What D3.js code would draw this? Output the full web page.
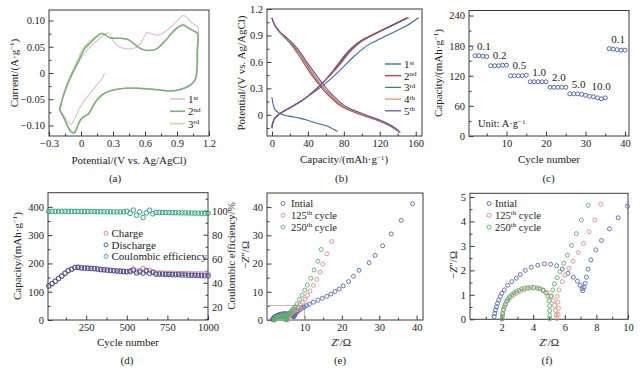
<!DOCTYPE html>
<html>
<head>
<meta charset="utf-8">
<script src="https://cdn.jsdelivr.net/npm/d3@7/dist/d3.min.js"></script>
<style>
body { margin: 0; background: #fff; }
svg text { font-family: "Liberation Serif", "Times New Roman", serif; font-size: 10.5px; fill: #222; }
</style>
</head>
<body>
<svg id="fig" width="640" height="369"></svg>
<script>
// ---- (a) cyclic voltammetry ----
var cv1V = [0.22, 0.20, 0.15, 0.10, 0.05, 0.00, -0.04, -0.07, -0.09, -0.11, -0.14, -0.17, -0.20, -0.16, -0.12, -0.09, -0.05, 0.00, 0.05, 0.10, 0.15, 0.20, 0.24, 0.27, 0.30, 0.35, 0.40, 0.46, 0.51, 0.55, 0.59, 0.62, 0.66, 0.71, 0.76, 0.81, 0.86, 0.91, 0.95, 0.98, 1.02, 1.06, 1.095, 1.095, 1.09, 1.07, 1.03, 0.95, 0.85, 0.75, 0.60, 0.45, 0.35, 0.27, 0.20, 0.15, 0.11, 0.08, 0.05];
var cv1I = [0.000, -0.010, -0.022, -0.035, -0.048, -0.062, -0.078, -0.092, -0.098, -0.096, -0.088, -0.078, -0.070, -0.041, -0.019, -0.006, 0.010, 0.028, 0.042, 0.052, 0.062, 0.070, 0.076, 0.074, 0.062, 0.051, 0.047, 0.046, 0.048, 0.054, 0.068, 0.077, 0.075, 0.072, 0.075, 0.082, 0.091, 0.101, 0.109, 0.108, 0.100, 0.092, 0.088, 0.050, 0.005, -0.012, -0.022, -0.030, -0.034, -0.032, -0.030, -0.029, -0.031, -0.034, -0.041, -0.050, -0.064, -0.075, -0.080];
var cv2V = [-0.20, -0.16, -0.12, -0.09, -0.05, -0.02, 0.03, 0.08, 0.13, 0.18, 0.20, 0.23, 0.27, 0.32, 0.38, 0.44, 0.49, 0.54, 0.59, 0.64, 0.70, 0.75, 0.80, 0.85, 0.90, 0.94, 0.97, 1.00, 1.04, 1.08, 1.095, 1.09, 1.085, 1.07, 1.03, 0.98, 0.90, 0.82, 0.72, 0.62, 0.52, 0.42, 0.34, 0.27, 0.21, 0.17, 0.13, 0.10, 0.07, 0.04, 0.01, -0.02, -0.04, -0.065, -0.09, -0.12, -0.15, -0.18, -0.20];
var cv2I = [-0.070, -0.040, -0.018, -0.004, 0.012, 0.024, 0.045, 0.056, 0.066, 0.074, 0.075, 0.072, 0.067, 0.066, 0.066, 0.064, 0.057, 0.049, 0.044, 0.043, 0.045, 0.053, 0.064, 0.076, 0.086, 0.091, 0.091, 0.087, 0.082, 0.078, 0.075, 0.040, 0.000, -0.013, -0.022, -0.028, -0.033, -0.034, -0.032, -0.030, -0.029, -0.029, -0.031, -0.034, -0.040, -0.047, -0.057, -0.068, -0.078, -0.082, -0.086, -0.095, -0.106, -0.114, -0.113, -0.104, -0.090, -0.078, -0.070];
var cv3V = [-0.20, -0.16, -0.12, -0.09, -0.05, -0.02, 0.03, 0.08, 0.13, 0.18, 0.20, 0.23, 0.27, 0.32, 0.38, 0.44, 0.49, 0.54, 0.59, 0.64, 0.70, 0.75, 0.80, 0.85, 0.90, 0.94, 0.97, 1.00, 1.04, 1.08, 1.095, 1.09, 1.085, 1.07, 1.03, 0.98, 0.90, 0.82, 0.72, 0.62, 0.52, 0.42, 0.34, 0.27, 0.21, 0.17, 0.13, 0.10, 0.07, 0.04, 0.01, -0.02, -0.04, -0.065, -0.09, -0.12, -0.15, -0.18, -0.20];
var cv3I = [-0.070, -0.038, -0.015, -0.001, 0.016, 0.030, 0.050, 0.060, 0.068, 0.075, 0.076, 0.073, 0.067, 0.066, 0.066, 0.064, 0.057, 0.049, 0.044, 0.043, 0.045, 0.052, 0.063, 0.075, 0.085, 0.090, 0.090, 0.086, 0.081, 0.077, 0.074, 0.040, 0.000, -0.013, -0.022, -0.028, -0.033, -0.034, -0.032, -0.030, -0.029, -0.029, -0.031, -0.034, -0.040, -0.047, -0.057, -0.067, -0.077, -0.081, -0.085, -0.094, -0.104, -0.112, -0.111, -0.102, -0.089, -0.077, -0.070];
var cvNames = ['1', '2', '3'];
var cvSups = ['st', 'nd', 'rd'];

// ---- (b) charge / discharge profiles ----
var chCap = [
  [0, 1, 3, 6, 10, 20, 30, 40, 50, 60, 70, 80, 90, 100, 110, 120, 130, 140, 150, 163],
  [0, 1, 3, 6, 10, 20, 30, 40, 50, 60, 68, 76, 84, 92, 100, 110, 120, 130, 140, 150],
  [0, 1, 3, 6, 10, 20, 30, 40, 50, 60, 69, 77, 85, 93, 101, 111, 121, 131, 141, 152],
  [0, 1, 3, 6, 10, 20, 30, 40, 50, 60, 70, 79, 87, 95, 103, 112, 122, 132, 142, 153],
  [0, 1, 3, 6, 10, 20, 30, 40, 50, 60, 69, 78, 86, 94, 102, 111, 121, 131, 141, 151]
];
var chV = [
  [-0.15, -0.09, -0.04, -0.01, 0.02, 0.08, 0.14, 0.21, 0.28, 0.36, 0.45, 0.55, 0.65, 0.74, 0.81, 0.86, 0.91, 0.96, 1.01, 1.10],
  [-0.15, -0.09, -0.04, -0.01, 0.02, 0.08, 0.14, 0.21, 0.30, 0.40, 0.50, 0.61, 0.71, 0.79, 0.85, 0.90, 0.95, 1.00, 1.05, 1.10],
  [-0.15, -0.09, -0.04, -0.01, 0.02, 0.08, 0.14, 0.21, 0.30, 0.40, 0.50, 0.61, 0.71, 0.79, 0.85, 0.90, 0.95, 1.00, 1.05, 1.10],
  [-0.15, -0.09, -0.04, -0.01, 0.02, 0.08, 0.14, 0.21, 0.30, 0.40, 0.50, 0.61, 0.71, 0.79, 0.85, 0.90, 0.95, 1.00, 1.05, 1.10],
  [-0.15, -0.09, -0.04, -0.01, 0.02, 0.08, 0.14, 0.21, 0.30, 0.40, 0.50, 0.61, 0.71, 0.79, 0.85, 0.90, 0.95, 1.00, 1.05, 1.10]
];
var dcCap = [
  [0, 1.5, 4, 8, 14, 22, 32, 42, 52, 62, 68, 73],
  [0, 3, 8, 15, 22, 29, 36, 43, 51, 59, 67, 75, 84, 94, 104, 114, 124, 132, 138, 142],
  [0, 3, 8, 15, 23, 31, 38, 45, 53, 61, 69, 77, 86, 96, 106, 116, 125, 133, 139, 142],
  [0, 3, 8, 16, 24, 32, 39, 46, 54, 62, 70, 78, 87, 97, 107, 117, 126, 134, 139, 142],
  [0, 3, 9, 17, 25, 33, 40, 48, 56, 64, 72, 80, 89, 99, 108, 118, 127, 134, 140, 143]
];
var dcV = [
  [0.20, 0.11, 0.05, 0.02, -0.005, -0.02, -0.04, -0.07, -0.10, -0.13, -0.16, -0.19],
  [1.10, 1.02, 0.94, 0.87, 0.79, 0.69, 0.58, 0.47, 0.36, 0.26, 0.18, 0.11, 0.06, 0.02, -0.015, -0.05, -0.09, -0.13, -0.17, -0.20],
  [1.10, 1.02, 0.94, 0.87, 0.79, 0.69, 0.58, 0.47, 0.36, 0.26, 0.18, 0.11, 0.06, 0.02, -0.015, -0.05, -0.09, -0.13, -0.17, -0.20],
  [1.10, 1.02, 0.94, 0.87, 0.79, 0.69, 0.58, 0.47, 0.36, 0.26, 0.18, 0.11, 0.06, 0.02, -0.015, -0.05, -0.09, -0.13, -0.17, -0.20],
  [1.10, 1.02, 0.94, 0.87, 0.79, 0.69, 0.58, 0.47, 0.36, 0.26, 0.18, 0.11, 0.06, 0.02, -0.015, -0.05, -0.09, -0.13, -0.17, -0.20]
];
var gcdNames = ['1', '2', '3', '4', '5'];
var gcdSups = ['st', 'nd', 'rd', 'th', 'th'];
var gcdColors = ['#3d63a6', '#c8363d', '#2f8a66', '#f2926c', '#6a4e9e'];

// ---- (c) rate capability ----
var rateCycle = d3.range(1, 41);
var rateCap = [175, 160, 160, 159, 158, 140, 140, 140, 141, 141, 120, 120, 120, 120, 121, 108, 108, 108, 108, 108,
  97, 97, 97, 97, 97, 84, 84, 84, 83, 81, 79, 78, 76, 74, 76, 174, 173, 172, 171, 171];
var rateLabels = ['0.1', '0.2', '0.5', '1.0', '2.0', '5.0', '10.0', '0.1'];
var rateStart = [2, 6, 11, 16, 21, 26, 31, 36];

// ---- (d) long cycling, every 20th cycle ----
var lifeCycle = d3.range(20, 1001, 20);
var lifeCharge = [121, 129, 138, 147, 156, 166, 175, 180, 186, 187, 185, 184, 184, 183, 182, 181, 179, 178, 177, 176,
  175, 174, 174, 173, 172, 174, 180, 172, 169, 182, 170, 176, 170, 166, 166, 166, 165, 165, 165, 165,
  164, 164, 164, 164, 163, 163, 163, 163, 163, 163];
var lifeDischarge = [120, 128, 137, 146, 155, 165, 174, 179, 185, 186, 184, 183, 183, 182, 181, 180, 178, 177, 176, 175,
  174, 173, 172, 171, 170, 171, 176, 166, 173, 166, 175, 165, 168, 162, 162, 162, 161, 161, 160, 160,
  160, 159, 159, 158, 158, 158, 157, 157, 156, 156];
var lifeCE = [99.4, 99.5, 99.5, 99.6, 99.5, 99.5, 99.4, 99.5, 99.4, 99.4, 99.3, 99.4, 99.3, 99.3, 99.2, 99.2, 99.2, 99.1, 99.1, 99.1,
  99.0, 99.0, 99.0, 99.0, 99.5, 97.8, 100.5, 96.2, 99.0, 94.3, 98.2, 100.4, 97.4, 98.6, 98.6, 98.5, 98.5, 98.4, 98.4, 98.3,
  98.3, 98.2, 98.2, 98.1, 98.1, 98.0, 98.0, 97.9, 97.9, 97.8];
var lifeNames = ['Charge', 'Discharge', 'Coulombic efficiency'];

// ---- (e)/(f) impedance ----
var eisRe0 = [1.53, 1.57, 1.61, 1.68, 1.74, 1.82, 1.91, 2.02, 2.17, 2.38, 2.65, 2.93, 3.18, 3.50, 3.88, 4.29, 4.71, 5.10, 5.48, 5.84,
  6.20, 6.54, 6.80, 6.97, 7.10, 7.14, 7.22, 7.29, 7.37, 7.48, 7.65, 7.96, 8.32, 8.83, 9.38, 9.97,
  10.6, 11.3, 12.4, 13.6, 14.8, 16.0, 17.1, 18.2, 19.3, 20.4, 21.8, 23.1, 24.6, 27.3, 28.9, 30.9, 33.2, 35.9, 38.9];
var eisIm0 = [0.11, 0.24, 0.38, 0.51, 0.65, 0.79, 0.93, 1.06, 1.20, 1.39, 1.54, 1.68, 1.83, 2.00, 2.13, 2.21, 2.27, 2.25, 2.19, 2.05,
  1.88, 1.72, 1.56, 1.39, 1.26, 1.17, 1.31, 1.47, 1.72, 2.05, 2.43, 2.84, 3.22, 3.70, 4.15, 4.62,
  5.1, 5.6, 6.3, 7.0, 7.7, 8.4, 9.2, 10.1, 11.0, 12.1, 13.6, 15.5, 17.6, 20.3, 22.9, 26.3, 30.5, 35.3, 41.2];
var eisRe125 = [2.02, 2.06, 2.12, 2.23, 2.38, 2.55, 2.76, 2.97, 3.18, 3.44, 3.72, 4.03, 4.35, 4.63, 4.88, 5.10, 5.27, 5.35, 5.41, 5.46,
  5.50, 5.58, 5.60, 5.57, 5.52, 5.63, 5.84, 5.99, 6.26, 6.52, 6.86, 7.18, 7.54, 7.90, 8.28,
  8.9, 9.5, 10.2, 10.8, 11.5, 12.4, 13.3, 14.2, 14.9, 16.0, 17.3];
var eisIm125 = [0.00, 0.20, 0.40, 0.58, 0.75, 0.88, 0.99, 1.07, 1.15, 1.20, 1.26, 1.29, 1.26, 1.20, 1.09, 0.94, 0.76, 0.57, 0.36, 0.17,
  0.03, 0.20, 0.45, 0.70, 0.93, 1.20, 1.54, 1.81, 2.09, 2.37, 2.73, 3.10, 3.58, 4.06, 4.70,
  5.5, 6.2, 7.3, 8.8, 10.3, 12.3, 14.4, 17.0, 19.8, 23.5, 27.8];
var eisRe250 = [2.03, 2.05, 2.08, 2.12, 2.17, 2.24, 2.32, 2.41, 2.52, 2.64, 2.78, 2.93, 3.09, 3.26, 3.45, 3.65, 3.85, 4.05, 4.25, 4.45,
  4.63, 4.79, 4.92, 5.00, 5.04, 5.05, 5.05, 5.04, 5.15, 5.24, 5.35, 5.52, 5.69, 5.94, 6.16, 6.43, 6.73, 7.05, 7.49,
  8.0, 8.7, 9.4, 10.1, 10.8, 11.7, 12.6, 13.6, 14.5];
var eisIm250 = [0.02, 0.12, 0.25, 0.38, 0.51, 0.63, 0.74, 0.84, 0.93, 1.01, 1.08, 1.14, 1.19, 1.24, 1.27, 1.29, 1.30, 1.30, 1.28, 1.24,
  1.18, 1.08, 0.95, 0.75, 0.55, 0.35, 0.15, 0.02, 0.95, 1.20, 1.45, 1.70, 1.95, 2.29, 2.62, 3.02, 3.50, 4.06, 4.66,
  5.7, 7.3, 8.8, 10.6, 12.4, 14.8, 17.7, 20.8, 25.0];
var eisNames = ['Intial', '125', '250'];
var eisSups = ['', 'th', 'th'];
var eisColors = ['#5566b0', '#e08c8c', '#5cae6e'];

var ink = '#3a3a3a';
var titleSize = '11px';
var svg = d3.select('#fig');

function frame(x, y, o) {
  var g = svg.append('g');
  var left = x.range()[0], right = x.range()[1];
  var bottom = y.range()[0], top = y.range()[1];
  g.append('g').attr('transform', 'translate(0,' + bottom + ')')
    .call(d3.axisBottom(x).tickValues(o.xMinor || []).tickSize(-2.5).tickFormat(''));
  g.append('g').attr('transform', 'translate(0,' + bottom + ')')
    .call(d3.axisBottom(x).tickValues(o.xTicks).tickSize(-4.5).tickPadding(4).tickFormat(o.xFormat || String));
  g.append('g').attr('transform', 'translate(' + left + ',0)')
    .call(d3.axisLeft(y).tickValues(o.yMinor || []).tickSize(-2.5).tickFormat(''));
  g.append('g').attr('transform', 'translate(' + left + ',0)')
    .call(d3.axisLeft(y).tickValues(o.yTicks).tickSize(-4.5).tickPadding(4).tickFormat(o.yFormat || String));
  g.selectAll('.domain').remove();
  g.selectAll('.tick line').attr('stroke', ink);
  g.append('rect')
    .attr('x', left).attr('y', top)
    .attr('width', right - left).attr('height', bottom - top)
    .attr('fill', 'none').attr('stroke', ink).attr('stroke-width', 1);
  return g;
}

// text made of parts; a part given as [txt, 'sup'] is raised, [txt, 'it'] is italic
function rich(t, parts) {
  var up = false;
  parts.forEach(function(p) {
    var txt = typeof p === 'string' ? p : p[0];
    var kind = typeof p === 'string' ? '' : p[1];
    var s = t.append('tspan').text(txt);
    if (kind === 'sup') {
      s.attr('dy', -3.5).style('font-size', '7px');
      up = true;
    } else {
      if (up) s.attr('dy', 3.5);
      up = false;
      if (kind === 'it') s.style('font-style', 'italic');
    }
  });
  return t;
}

function title(x, y, parts, rotate) {
  var t = svg.append('text')
    .attr('text-anchor', 'middle')
    .style('font-size', titleSize)
    .attr('transform', 'translate(' + x + ',' + y + ')' + (rotate ? ' rotate(' + rotate + ')' : ''));
  return rich(t, parts);
}

function minus(f) {
  return function(d) { return f(d).replace('-', '\u2212'); };
}

var capParts = ['Capacity/(mAh\u00b7g', ['\u22121', 'sup'], ')'];

// ================= (a) =================
var xa = d3.scaleLinear().domain([-0.3, 1.2]).range([49, 209]);
var ya = d3.scaleLinear().domain([-0.12, 0.12]).range([136, 10]);
frame(xa, ya, {
  xTicks: [-0.3, 0, 0.3, 0.6, 0.9, 1.2], xMinor: d3.range(-0.15, 1.2, 0.3),
  yTicks: [-0.1, -0.05, 0, 0.05, 0.1], yMinor: [-0.075, -0.025, 0.025, 0.075],
  xFormat: minus(function(d) { return d === 0 ? '0' : d3.format('.1f')(d); }),
  yFormat: minus(function(d) { return d === 0 ? '0' : d3.format('.2f')(d); })
});
var cvLine = d3.line().x(function(d) { return xa(d[0]); }).y(function(d) { return ya(d[1]); })
  .curve(d3.curveCatmullRom);
var cvData = [d3.zip(cv1V, cv1I), d3.zip(cv2V, cv2I), d3.zip(cv3V, cv3I)];
var cvColors = ['#dcc3d9', '#7aae7a', '#c6d8a6'];
var cvWidths = [1.2, 1.5, 1.3];
[0, 2, 1].forEach(function(i) {
  svg.append('path').attr('d', cvLine(cvData[i])).attr('fill', 'none')
    .attr('stroke', cvColors[i]).attr('stroke-width', cvWidths[i]);
});
cvNames.forEach(function(n, i) {
  var yy = 99 + i * 12.3;
  svg.append('line').attr('x1', 170).attr('x2', 185).attr('y1', yy).attr('y2', yy)
    .attr('stroke', cvColors[i]).attr('stroke-width', 1.6);
  rich(svg.append('text').attr('x', 188).attr('y', yy + 4).style('font-size', titleSize), [n, [cvSups[i], 'sup']]);
});
title(14, 73, ['Current/(A\u00b7g', ['\u22121', 'sup'], ')'], -90).attr('dy', '0.35em');
title(129, 164, ['Potential/(V vs. Ag/AgCl)']);
title(115, 182, ['(a)']);

// ================= (b) =================
var xb = d3.scaleLinear().domain([-5.5, 167]).range([267, 422]);
var yb = d3.scaleLinear().domain([-0.24, 1.2]).range([136, 9]);
frame(xb, yb, {
  xTicks: [0, 40, 80, 120, 160], xMinor: [20, 60, 100, 140],
  yTicks: [0, 0.3, 0.6, 0.9, 1.2], yMinor: [-0.15, 0.15, 0.45, 0.75, 1.05],
  yFormat: function(d) { return d === 0 ? '0' : d3.format('.1f')(d); }
});
var gcdLine = d3.line().x(function(d) { return xb(d[0]); }).y(function(d) { return yb(d[1]); })
  .curve(d3.curveCatmullRom);
gcdNames.forEach(function(n, i) {
  svg.append('path').attr('d', gcdLine(d3.zip(chCap[i], chV[i]))).attr('fill', 'none')
    .attr('stroke', gcdColors[i]).attr('stroke-width', 1.1);
  svg.append('path').attr('d', gcdLine(d3.zip(dcCap[i], dcV[i]))).attr('fill', 'none')
    .attr('stroke', gcdColors[i]).attr('stroke-width', 1.1);
});
gcdNames.forEach(function(n, i) {
  var yy = 64 + i * 11.7;
  svg.append('line').attr('x1', 385).attr('x2', 401).attr('y1', yy).attr('y2', yy)
    .attr('stroke', gcdColors[i]).attr('stroke-width', 1.3);
  rich(svg.append('text').attr('x', 404).attr('y', yy + 4).style('font-size', titleSize), [n, [gcdSups[i], 'sup']]);
});
title(241.5, 73, ['Potential/(V vs. Ag/AgCl)'], -90).attr('dy', '0.35em');
title(344, 163, capParts);
title(341.5, 182, ['(b)']);

// ================= (c) =================
var xc = d3.scaleLinear().domain([0.5, 41]).range([469, 629]);
var yc = d3.scaleLinear().domain([0, 250]).range([136, 10.5]);
frame(xc, yc, {
  xTicks: [10, 20, 30, 40], xMinor: [5, 15, 25, 35],
  yTicks: [0, 60, 120, 180, 240], yMinor: [30, 90, 150, 210]
});
svg.append('g').selectAll('circle').data(d3.zip(rateCycle, rateCap)).enter().append('circle')
  .attr('cx', function(d) { return xc(d[0]); })
  .attr('cy', function(d) { return yc(d[1]); })
  .attr('r', 2).attr('fill', '#fff').attr('stroke', '#3f5ba8').attr('stroke-width', 0.9);
rateLabels.forEach(function(lab, i) {
  var s = rateStart[i];
  var top = d3.max(rateCap.slice(s - 1, s + 4));
  svg.append('text').attr('x', xc(s) + 2).attr('y', yc(top) - 6).style('font-size', titleSize).text(lab);
});
rich(svg.append('text').attr('x', 478).attr('y', 127).style('font-size', '10.5px'), ['Unit: A\u00b7g', ['\u22121', 'sup']]);
title(438, 73, capParts, -90).attr('dy', '0.35em');
title(549, 163, ['Cycle number']);
title(548.5, 182, ['(c)']);

// ================= (d) =================
var xd = d3.scaleLinear().domain([15, 1000]).range([48, 208]);
var yd = d3.scaleLinear().domain([0, 450]).range([320, 192.7]);
var yd2 = d3.scaleLinear().domain([9, 115]).range([320, 192.7]);
frame(xd, yd, {
  xTicks: [250, 500, 750, 1000], xMinor: [125, 375, 625, 875],
  yTicks: [0, 100, 200, 300, 400], yMinor: [50, 150, 250, 350]
});
var rAx = svg.append('g').attr('transform', 'translate(208,0)');
rAx.append('g').call(d3.axisRight(yd2).tickValues([10, 30, 50, 70, 90, 110]).tickSize(-2.5).tickFormat(''));
rAx.append('g').call(d3.axisRight(yd2).tickValues([20, 40, 60, 80, 100]).tickSize(-4.5).tickPadding(4));
rAx.selectAll('.domain').remove();
rAx.selectAll('.tick line').attr('stroke', ink);
var lifeColors = ['#e07f80', '#3d4fa0', '#2fa57e'];
var lifeSeries = [
  { vals: lifeCharge, y: yd }, { vals: lifeDischarge, y: yd }, { vals: lifeCE, y: yd2 }
];
lifeSeries.forEach(function(s, i) {
  svg.append('g').selectAll('circle').data(d3.zip(lifeCycle, s.vals)).enter().append('circle')
    .attr('cx', function(d) { return xd(d[0]); })
    .attr('cy', function(d) { return s.y(d[1]); })
    .attr('r', 2.3).attr('fill', 'none').attr('stroke', lifeColors[i]).attr('stroke-width', 1);
});
lifeNames.forEach(function(n, i) {
  var yy = 233.3 + i * 11.5;
  svg.append('circle').attr('cx', 106).attr('cy', yy).attr('r', 2).attr('fill', 'none')
    .attr('stroke', lifeColors[i]).attr('stroke-width', 0.9);
  svg.append('text').attr('x', 111.5).attr('y', yy + 3.8).style('font-size', titleSize).text(n);
});
title(17, 256, capParts, -90).attr('dy', '0.35em');
title(231, 256, ['Coulombic efficiency/%'], -90).attr('dy', '0.35em');
title(128, 346, ['Cycle number']);
title(127, 364, ['(d)']);

// ================= (e) =================
var xe = d3.scaleLinear().domain([0, 41.7]).range([267, 423]);
var ye = d3.scaleLinear().domain([0, 45]).range([320, 193]);
frame(xe, ye, {
  xTicks: [10, 20, 30, 40], xMinor: [5, 15, 25, 35],
  yTicks: [0, 10, 20, 30, 40], yMinor: [5, 15, 25, 35]
});
var xf = d3.scaleLinear().domain([0, 10]).range([470, 628]);
var yf = d3.scaleLinear().domain([0, 5.15]).range([319.3, 193.3]);
// zoomed window of panel (f)
svg.append('rect').attr('x', xe(0)).attr('y', ye(yf.domain()[1]))
  .attr('width', xe(xf.domain()[1]) - xe(0)).attr('height', ye(0) - ye(yf.domain()[1]))
  .attr('fill', 'none').attr('stroke', '#aaa').attr('stroke-width', 0.8);
var eisData = [d3.zip(eisRe0, eisIm0), d3.zip(eisRe125, eisIm125), d3.zip(eisRe250, eisIm250)];

function eisPanel(x, y) {
  var xMax = x.domain()[1], yMax = y.domain()[1];
  eisData.forEach(function(pts, i) {
    svg.append('g').selectAll('circle')
      .data(pts.filter(function(d) { return d[0] <= xMax + 0.05 && d[1] <= yMax; }))
      .enter().append('circle')
      .attr('cx', function(d) { return x(d[0]); })
      .attr('cy', function(d) { return y(d[1]); })
      .attr('r', 2).attr('fill', 'none').attr('stroke', eisColors[i]).attr('stroke-width', 0.9);
  });
}
function eisLegend(cx, tx) {
  eisNames.forEach(function(n, i) {
    var yy = 203.5 + i * 11.8;
    svg.append('circle').attr('cx', cx).attr('cy', yy).attr('r', 2).attr('fill', 'none')
      .attr('stroke', eisColors[i]).attr('stroke-width', 0.9);
    var parts = i === 0 ? [n] : [n, [eisSups[i], 'sup'], ' cycle'];
    rich(svg.append('text').attr('x', tx).attr('y', yy + 3.6).style('font-size', '10.5px'), parts);
  });
}
eisPanel(xe, ye);
eisLegend(283, 291);
title(245, 255, ['\u2212', ['Z', 'it'], '\u2033/\u03a9'], -90).attr('dy', '0.35em');
title(341, 346, [['Z', 'it'], '\u2032/\u03a9']);
title(340, 364, ['(e)']);

// ================= (f) =================
frame(xf, yf, {
  xTicks: [2, 4, 6, 8, 10], xMinor: [1, 3, 5, 7, 9],
  yTicks: [0, 1, 2, 3, 4, 5], yMinor: [0.5, 1.5, 2.5, 3.5, 4.5]
});
eisPanel(xf, yf);
eisLegend(489, 495);
title(453, 265, ['\u2212', ['Z', 'it'], '\u2033/\u03a9'], -90).attr('dy', '0.35em');
title(549, 346, [['Z', 'it'], '\u2032/\u03a9']);
title(547, 364, ['(f)']);
</script>
</body>
</html>
